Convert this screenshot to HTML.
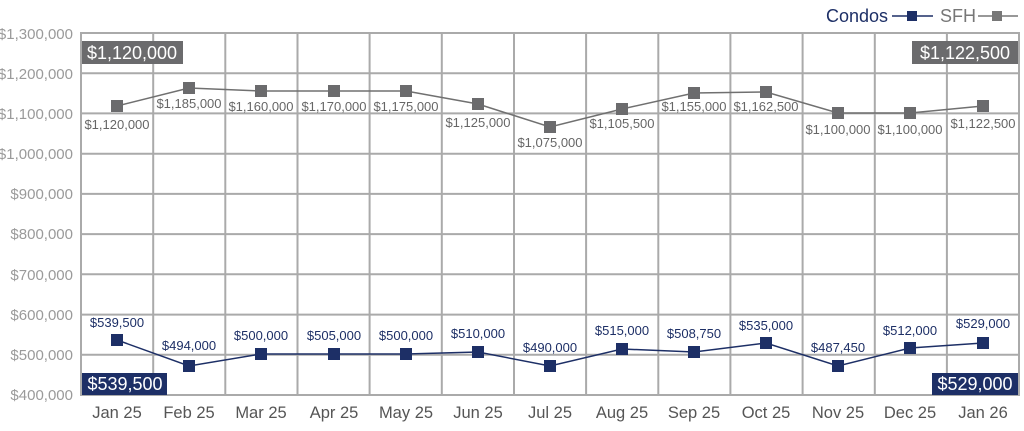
<!DOCTYPE html>
<html><head><meta charset="utf-8"><style>
body{margin:0;background:#fff;}
svg{display:block;font-family:"Liberation Sans",Arial,sans-serif;}
</style></head><body>
<svg width="1024" height="431" viewBox="0 0 1024 431" xmlns="http://www.w3.org/2000/svg">
<g stroke="#aaa" stroke-width="2" fill="none">
<rect x="81" y="33" width="938" height="362"/>
<line x1="81" y1="73.2" x2="1019" y2="73.2"/><line x1="81" y1="113.4" x2="1019" y2="113.4"/><line x1="81" y1="153.7" x2="1019" y2="153.7"/><line x1="81" y1="193.9" x2="1019" y2="193.9"/><line x1="81" y1="234.1" x2="1019" y2="234.1"/><line x1="81" y1="274.3" x2="1019" y2="274.3"/><line x1="81" y1="314.6" x2="1019" y2="314.6"/><line x1="81" y1="354.8" x2="1019" y2="354.8"/>
<line x1="153.2" y1="33" x2="153.2" y2="395"/><line x1="225.3" y1="33" x2="225.3" y2="395"/><line x1="297.5" y1="33" x2="297.5" y2="395"/><line x1="369.6" y1="33" x2="369.6" y2="395"/><line x1="441.8" y1="33" x2="441.8" y2="395"/><line x1="514" y1="33" x2="514" y2="395"/><line x1="586.1" y1="33" x2="586.1" y2="395"/><line x1="658.3" y1="33" x2="658.3" y2="395"/><line x1="730.4" y1="33" x2="730.4" y2="395"/><line x1="802.6" y1="33" x2="802.6" y2="395"/><line x1="874.8" y1="33" x2="874.8" y2="395"/><line x1="946.9" y1="33" x2="946.9" y2="395"/>
</g>
<g fill="#9a9a9a" font-size="15" text-anchor="end">
<text x="73" y="39">$1,300,000</text><text x="73" y="79">$1,200,000</text><text x="73" y="119">$1,100,000</text><text x="73" y="159">$1,000,000</text><text x="73" y="199">$900,000</text><text x="73" y="239">$800,000</text><text x="73" y="280">$700,000</text><text x="73" y="320">$600,000</text><text x="73" y="360">$500,000</text><text x="73" y="400">$400,000</text>
</g>
<g fill="#555" font-size="16.5" text-anchor="middle">
<text x="117" y="418">Jan 25</text><text x="189" y="418">Feb 25</text><text x="261" y="418">Mar 25</text><text x="334" y="418">Apr 25</text><text x="406" y="418">May 25</text><text x="478" y="418">Jun 25</text><text x="550" y="418">Jul 25</text><text x="622" y="418">Aug 25</text><text x="694" y="418">Sep 25</text><text x="766" y="418">Oct 25</text><text x="838" y="418">Nov 25</text><text x="910" y="418">Dec 25</text><text x="983" y="418">Jan 26</text>
</g>
<polyline fill="none" stroke="#707070" stroke-width="1.5" points="117,106 189,88 261,91 334,91 406,91 478,104 550,127 622,109 694,93 766,92 838,113 910,113 983,106"/>
<g fill="#6b6b6d">
<rect x="111" y="100" width="12" height="12"/><rect x="183" y="82" width="12" height="12"/><rect x="255" y="85" width="12" height="12"/><rect x="328" y="85" width="12" height="12"/><rect x="400" y="85" width="12" height="12"/><rect x="472" y="98" width="12" height="12"/><rect x="544" y="121" width="12" height="12"/><rect x="616" y="103" width="12" height="12"/><rect x="688" y="87" width="12" height="12"/><rect x="760" y="86" width="12" height="12"/><rect x="832" y="107" width="12" height="12"/><rect x="904" y="107" width="12" height="12"/><rect x="977" y="100" width="12" height="12"/>
</g>
<g fill="#666" font-size="13" text-anchor="middle">
<text x="117" y="129">$1,120,000</text><text x="189" y="108">$1,185,000</text><text x="261" y="111">$1,160,000</text><text x="334" y="111">$1,170,000</text><text x="406" y="111">$1,175,000</text><text x="478" y="127">$1,125,000</text><text x="550" y="147">$1,075,000</text><text x="622" y="128">$1,105,500</text><text x="694" y="111">$1,155,000</text><text x="766" y="111">$1,162,500</text><text x="838" y="134">$1,100,000</text><text x="910" y="134">$1,100,000</text><text x="983" y="128">$1,122,500</text>
</g>
<polyline fill="none" stroke="#1d2f66" stroke-width="1.5" points="117,340 189,366 261,354 334,354 406,354 478,352 550,366 622,349 694,352 766,343 838,366 910,348 983,343"/>
<g fill="#1d2f66">
<rect x="111" y="334" width="12" height="12"/><rect x="183" y="360" width="12" height="12"/><rect x="255" y="348" width="12" height="12"/><rect x="328" y="348" width="12" height="12"/><rect x="400" y="348" width="12" height="12"/><rect x="472" y="346" width="12" height="12"/><rect x="544" y="360" width="12" height="12"/><rect x="616" y="343" width="12" height="12"/><rect x="688" y="346" width="12" height="12"/><rect x="760" y="337" width="12" height="12"/><rect x="832" y="360" width="12" height="12"/><rect x="904" y="342" width="12" height="12"/><rect x="977" y="337" width="12" height="12"/>
</g>
<g fill="#1d2f66" font-size="13" text-anchor="middle">
<text x="117" y="327">$539,500</text><text x="189" y="350">$494,000</text><text x="261" y="340">$500,000</text><text x="334" y="340">$505,000</text><text x="406" y="340">$500,000</text><text x="478" y="338">$510,000</text><text x="550" y="352">$490,000</text><text x="622" y="335">$515,000</text><text x="694" y="338">$508,750</text><text x="766" y="330">$535,000</text><text x="838" y="352">$487,450</text><text x="910" y="335">$512,000</text><text x="983" y="328">$529,000</text>
</g>
<rect x="82" y="41" width="101" height="23" fill="#6b6b6d"/>
<text x="132" y="59" fill="#fff" font-size="18" text-anchor="middle">$1,120,000</text>
<rect x="912" y="41" width="106" height="23" fill="#6b6b6d"/>
<text x="965" y="59" fill="#fff" font-size="18" text-anchor="middle">$1,122,500</text>
<rect x="82" y="373" width="85" height="22" fill="#1d2f66"/>
<text x="125" y="390" fill="#fff" font-size="18" text-anchor="middle">$539,500</text>
<rect x="932" y="373" width="86" height="22" fill="#1d2f66"/>
<text x="975" y="390" fill="#fff" font-size="18" text-anchor="middle">$529,000</text>
<text x="888" y="22" fill="#1d2f66" font-size="18" text-anchor="end">Condos</text>
<line x1="892" y1="16" x2="933" y2="16" stroke="#1d2f66" stroke-width="1.5"/>
<rect x="907" y="11" width="10" height="10" fill="#1d2f66"/>
<text x="940" y="22" fill="#777" font-size="18">SFH</text>
<line x1="978" y1="16" x2="1018" y2="16" stroke="#777" stroke-width="1.5"/>
<rect x="992" y="11" width="10" height="10" fill="#777"/>
</svg>
</body></html>
